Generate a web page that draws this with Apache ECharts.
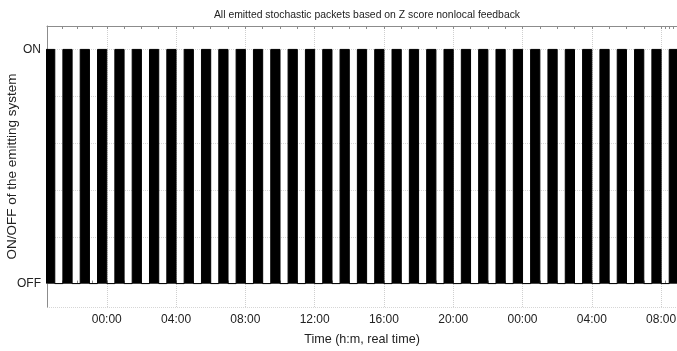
<!DOCTYPE html>
<html>
<head>
<meta charset="utf-8">
<script src="https://cdn.jsdelivr.net/npm/echarts@6/dist/echarts.min.js"></script>
<style>
  html, body { margin: 0; padding: 0; background: #fff; }
  #chart { width: 677px; height: 351px; }
</style>
</head>
<body>
<div id="chart"></div>
<script>
// start of every ON pulse (emitter switched on)
var onTimes = [
  '2021-03-01 20:28', '2021-03-01 21:28', '2021-03-01 22:28', '2021-03-01 23:28',
  '2021-03-02 00:28', '2021-03-02 01:28', '2021-03-02 02:28', '2021-03-02 03:28',
  '2021-03-02 04:28', '2021-03-02 05:28', '2021-03-02 06:28', '2021-03-02 07:28',
  '2021-03-02 08:28', '2021-03-02 09:28', '2021-03-02 10:28', '2021-03-02 11:28',
  '2021-03-02 12:28', '2021-03-02 13:28', '2021-03-02 14:28', '2021-03-02 15:28',
  '2021-03-02 16:28', '2021-03-02 17:28', '2021-03-02 18:28', '2021-03-02 19:28',
  '2021-03-02 20:28', '2021-03-02 21:28', '2021-03-02 22:28', '2021-03-02 23:28',
  '2021-03-03 00:28', '2021-03-03 01:28', '2021-03-03 02:28', '2021-03-03 03:28',
  '2021-03-03 04:28', '2021-03-03 05:28', '2021-03-03 06:28', '2021-03-03 07:28',
  '2021-03-03 08:28'
];
// end of every ON pulse (back to OFF)
var offTimes = [
  '2021-03-01 21:00', '2021-03-01 22:00', '2021-03-01 23:00', '2021-03-02 00:00',
  '2021-03-02 01:00', '2021-03-02 02:00', '2021-03-02 03:00', '2021-03-02 04:00',
  '2021-03-02 05:00', '2021-03-02 06:00', '2021-03-02 07:00', '2021-03-02 08:00',
  '2021-03-02 09:00', '2021-03-02 10:00', '2021-03-02 11:00', '2021-03-02 12:00',
  '2021-03-02 13:00', '2021-03-02 14:00', '2021-03-02 15:00', '2021-03-02 16:00',
  '2021-03-02 17:00', '2021-03-02 18:00', '2021-03-02 19:00', '2021-03-02 20:00',
  '2021-03-02 21:00', '2021-03-02 22:00', '2021-03-02 23:00', '2021-03-03 00:00',
  '2021-03-03 01:00', '2021-03-03 02:00', '2021-03-03 03:00', '2021-03-03 04:00',
  '2021-03-03 05:00', '2021-03-03 06:00', '2021-03-03 07:00', '2021-03-03 08:00',
  '2021-03-03 09:00'
];
var stateLabels = { 0: 'OFF', 1: 'ON' };
var timeMin = '2021-03-01 20:33';
var timeMax = '2021-03-03 08:55';

var FONT = 'Liberation Sans, Arial, sans-serif';
var HOUR = 3600 * 1000;

// square wave: OFF -> ON -> ON -> OFF for each pulse
var wave = [];
for (var i = 0; i < onTimes.length; i++) {
  wave.push([onTimes[i], 0], [onTimes[i], 1], [offTimes[i], 1], [offTimes[i], 0]);
}

function hhmm(v) {
  var d = new Date(v);
  var h = d.getHours(), m = d.getMinutes();
  return (h < 10 ? '0' : '') + h + ':' + (m < 10 ? '0' : '') + m;
}

var myChart = echarts.init(document.getElementById('chart'));
myChart.setOption({
  animation: false,
  backgroundColor: '#fff',
  title: {
    text: 'All emitted stochastic packets based on Z score nonlocal feedback',
    left: 362,
    textAlign: 'center',
    top: 5,
    textStyle: { fontFamily: FONT, fontSize: 10.4, fontWeight: 'normal', color: '#222' }
  },
  grid: { left: 47, right: 0, top: 26, bottom: 44, outerBoundsMode: 'none', containLabel: false },
  xAxis: [
    {
      type: 'time',
      position: 'bottom',
      min: timeMin,
      max: timeMax,
      minInterval: 4 * HOUR,
      maxInterval: 4 * HOUR,
      name: 'Time (h:m, real time)',
      nameLocation: 'middle',
      nameGap: 26,
      nameMoveOverlap: false,
      nameTextStyle: { fontFamily: FONT, fontSize: 12.6, color: '#222' },
      axisLine: { show: true, lineStyle: { color: '#8c8c8c', width: 1 } },
      axisTick: { show: true, inside: true, length: 3, lineStyle: { color: '#8c8c8c' } },
      minorTick: { show: true, splitNumber: 4, length: 3, lineStyle: { color: '#8c8c8c' } },
      minorSplitLine: { show: false },
      axisLabel: {
        margin: 7,
        fontFamily: FONT,
        fontSize: 12,
        color: '#222',
        showMinLabel: false,
        showMaxLabel: false,
        formatter: function (v) { return hhmm(v); }
      },
      splitLine: { show: true, lineStyle: { color: '#cfcfcf', type: 'dotted', width: 1 } }
    },
    {
      type: 'time',
      position: 'top',
      min: timeMin,
      max: timeMax,
      minInterval: 4 * HOUR,
      maxInterval: 4 * HOUR,
      axisLine: { show: true, lineStyle: { color: '#8c8c8c', width: 1 } },
      axisTick: { show: true, inside: true, length: 3, lineStyle: { color: '#8c8c8c' } },
      minorTick: { show: true, splitNumber: 4, length: 3, lineStyle: { color: '#8c8c8c' } },
      minorSplitLine: { show: false },
      axisLabel: { show: false },
      splitLine: { show: false }
    }
  ],
  yAxis: {
    type: 'value',
    min: -0.1,
    max: 1.1,
    splitNumber: 6,
    name: 'ON/OFF of the emitting system',
    nameLocation: 'middle',
    nameGap: 28,
    nameMoveOverlap: false,
    nameTextStyle: { fontFamily: FONT, fontSize: 13.5, color: '#222' },
    axisLine: { show: true, lineStyle: { color: '#8c8c8c', width: 1 } },
    axisTick: { show: false },
    axisLabel: {
      margin: 6,
      fontFamily: FONT,
      fontSize: 12,
      color: '#222',
      formatter: function (v) {
        var k = Math.round(v * 10) / 10;
        return stateLabels[k] !== undefined && Math.abs(v - k) < 1e-6 ? stateLabels[k] : '';
      }
    },
    splitLine: { show: true, lineStyle: { color: '#d6d6d6', type: 'dotted', width: 1 } }
  },
  series: [
    {
      name: 'ON/OFF',
      type: 'line',
      xAxisIndex: 0,
      symbol: 'none',
      clip: true,
      data: wave,
      lineStyle: { color: '#000', width: 1 },
      areaStyle: { color: '#000', opacity: 1, origin: 'auto' }
    }
  ]
});
</script>
</body>
</html>
